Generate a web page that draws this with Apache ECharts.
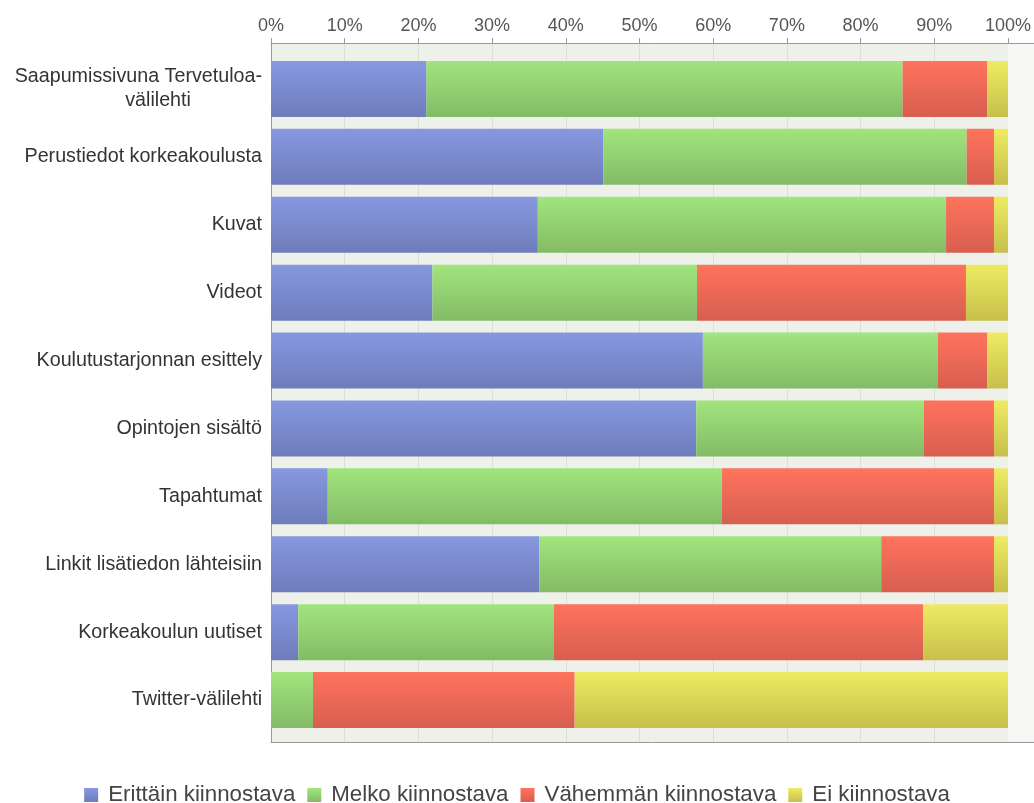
<!DOCTYPE html>
<html>
<head>
<meta charset="utf-8">
<script src="https://cdn.jsdelivr.net/npm/echarts@6/dist/echarts.min.js"></script>
<style>
html,body{margin:0;padding:0;background:#fff;}
#chart{width:1034px;height:803px;}
</style>
</head>
<body>
<div id="chart"></div>
<script>
var categories = [
  'Saapumissivuna Tervetuloa-\nvälilehti\u00a0\u00a0\u00a0\u00a0\u00a0\u00a0\u00a0\u00a0\u00a0\u00a0\u00a0\u00a0\u00a0',
  'Perustiedot korkeakoulusta',
  'Kuvat',
  'Videot',
  'Koulutustarjonnan esittely',
  'Opintojen sisältö',
  'Tapahtumat',
  'Linkit lisätiedon lähteisiin',
  'Korkeakoulun uutiset',
  'Twitter-välilehti'
];
var seriesNames = ['Erittäin kiinnostava', 'Melko kiinnostava', 'Vähemmän kiinnostava', 'Ei kiinnostava'];
var erittain = [21.1, 45.1, 36.2, 21.9, 58.6, 57.7, 7.7, 36.4, 3.7, 0];
var melko    = [64.6, 49.3, 55.4, 35.9, 31.9, 30.9, 53.5, 46.4, 34.7, 5.7];
var vahemman = [11.5, 3.7, 6.5, 36.5, 6.7, 9.5, 36.9, 15.3, 50.1, 35.5];
var ei       = [2.8, 1.9, 1.9, 5.7, 2.8, 1.9, 1.9, 1.9, 11.5, 58.8];
var tickValues = [0, 10, 20, 30, 40, 50, 60, 70, 80, 90, 100];

var colors = [
  ['#8798e0', '#6e7cbb'],
  ['#a1e57d', '#83bb66'],
  ['#ff735d', '#d75e50'],
  ['#eeeb62', '#c7bf4b']
];
var values = [erittain, melko, vahemman, ei];
var AXMAX = 103.53;

function grad(c) {
  return new echarts.graphic.LinearGradient(0, 0, 0, 1, [
    {offset: 0, color: c[0]}, {offset: 1, color: c[1]}
  ]);
}

var chart = echarts.init(document.getElementById('chart'), null, {renderer: 'canvas'});
var series = seriesNames.map(function (n, i) {
  return {
    name: n, type: 'bar', stack: 'total',
    xAxisIndex: 2, yAxisIndex: 1,
    barWidth: 56,
    itemStyle: {color: grad(colors[i])},
    data: values[i]
  };
});
series.push({
  type: 'line', xAxisIndex: 0, yAxisIndex: 0, data: [], silent: true,
  markArea: {
    silent: true,
    itemStyle: {color: '#f6f7f4'},
    data: [[{xAxis: 100, yAxis: 0.0015}, {xAxis: AXMAX, yAxis: 0.9985}]]
  }
});

var FONT = 'Liberation Sans, Arial, sans-serif';

chart.setOption({
  animation: false,
  backgroundColor: '#ffffff',
  textStyle: {fontFamily: FONT},
  grid: [
    {left: 271, right: 0, top: 43, bottom: 61, show: true, backgroundColor: '#eef0ea', borderWidth: 0},
    {left: 271, right: 0, top: 55, bottom: 69}
  ],
  xAxis: [
    {
      type: 'value', gridIndex: 0, position: 'top', min: 0, max: AXMAX, interval: 10,
      axisLine: {show: true, onZero: false, lineStyle: {color: '#9a9a9a', width: 1}},
      axisTick: {show: true, length: 5, customValues: tickValues, lineStyle: {color: '#9a9a9a'}},
      axisLabel: {customValues: tickValues, formatter: '{value}%', fontSize: 18, color: '#555', margin: 8,
        fontFamily: FONT},
      splitLine: {show: true, lineStyle: {color: '#dcdfd8', width: 1}}
    },
    {
      type: 'value', gridIndex: 0, position: 'bottom', min: 0, max: AXMAX,
      axisLine: {show: true, onZero: false, lineStyle: {color: '#9a9a9a', width: 1}},
      axisTick: {show: false}, axisLabel: {show: false}, splitLine: {show: false}
    },
    {
      type: 'value', gridIndex: 1, min: 0, max: AXMAX, show: false,
      axisLine: {onZero: false}
    }
  ],
  yAxis: [
    {
      type: 'value', gridIndex: 0, min: 0, max: 1,
      axisLine: {show: true, onZero: false, lineStyle: {color: '#9a9a9a', width: 1}},
      axisTick: {show: false}, axisLabel: {show: false}, splitLine: {show: false}
    },
    {
      type: 'category', gridIndex: 1, inverse: true, data: categories,
      axisLine: {show: false, onZero: false}, axisTick: {show: false}, splitLine: {show: false},
      axisLabel: {fontSize: 19.7, color: '#333', margin: 9, lineHeight: 24, fontFamily: FONT}
    }
  ],
  legend: {
    data: seriesNames,
    left: 'center', top: 779,
    icon: 'rect', itemWidth: 14, itemHeight: 14, itemGap: 12,
    textStyle: {fontSize: 22.3, color: '#444', padding: [0, 0, 0, 5], fontFamily: FONT}
  },
  series: series
});
</script>
</body>
</html>
